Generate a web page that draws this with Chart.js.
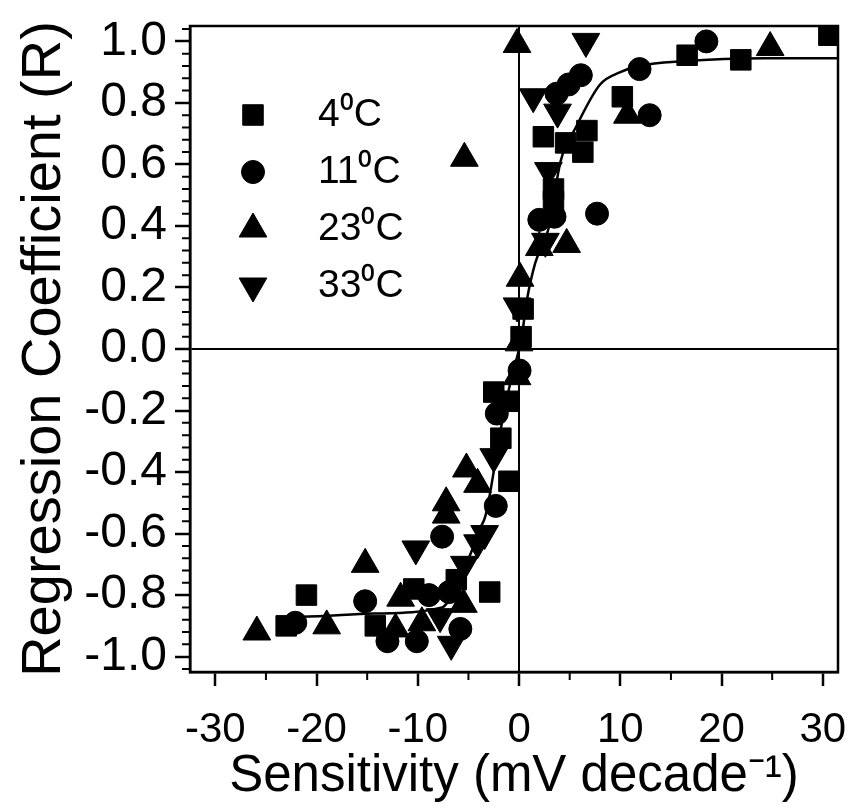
<!DOCTYPE html>
<html>
<head>
<meta charset="utf-8">
<script src="https://cdn.jsdelivr.net/npm/chart.js@4.4.1/dist/chart.umd.min.js"></script>
<style>
html,body{margin:0;padding:0;background:#ffffff;}
#wrap{width:855px;height:808px;position:relative;}
</style>
</head>
<body>
<div id="wrap"><canvas id="c" width="855" height="808"></canvas></div>
<script>
// ---------------- data ----------------
const seriesLabels = ['4\u2070C', '11\u2070C', '23\u2070C', '33\u2070C'];

// 4 °C (squares)
const s4x = [30.6, 21.9, 16.6, 10.2, 2.4, 4.6, 6.7, 6.3, 3.4, 3.4, 0.4, 0.2, -2.5, -1.0, -1.8, -1.0, -21.0, -10.4, -2.9, -6.2, -23.0, -14.2];
const s4y = [1.02, 0.94, 0.955, 0.82, 0.69, 0.67, 0.71, 0.64, 0.52, 0.48, 0.13, 0.04, -0.14, -0.17, -0.29, -0.43, -0.80, -0.78, -0.79, -0.75, -0.90, -0.90];

// 11 °C (circles)
const s11x = [18.5, 11.9, 12.9, 6.1, 4.9, 3.7, 7.7, 2.0, 3.5, 0.05, -2.2, -2.3, -7.6, -15.2, -8.9, -6.9, -22.1, -13.0, -10.1, -5.8];
const s11y = [1.00, 0.91, 0.76, 0.89, 0.86, 0.83, 0.44, 0.42, 0.43, -0.07, -0.21, -0.51, -0.61, -0.82, -0.80, -0.79, -0.89, -0.95, -0.95, -0.91];

// 23 °C (up triangles)
const s23x = [-0.2, 24.8, 10.7, -5.4, 4.7, 2.0, 0.1, 0.0, -0.2, -5.2, -4.1, -7.2, -7.2, -15.2, -11.7, -5.5, -25.9, -19.0, -12.2, -9.6];
const s23y = [0.99, 0.98, 0.76, 0.62, 0.34, 0.33, 0.23, 0.02, -0.09, -0.39, -0.44, -0.50, -0.54, -0.70, -0.81, -0.83, -0.92, -0.90, -0.91, -0.89];

// 33 °C (down triangles)
const s33x = [6.6, 1.4, 3.8, 2.9, 2.6, -0.2, -2.5, -3.4, -4.1, -10.2, -5.4, -6.7, -7.8];
const s33y = [1.00, 0.82, 0.77, 0.58, 0.35, 0.14, -0.35, -0.60, -0.63, -0.65, -0.70, -0.96, -0.87];

// fitted curve
const fitX = [-23, -21.5, -14.4, -7.6, -6.2, -4.6, -3.95, -3.3, -1.75, -1.0, 0, 0.26, 0.78, 1.6, 2.9, 4.1, 5.6, 8.0, 10.0, 11.9, 16.1, 24.3, 31.5];
const fitY = [-0.87, -0.87, -0.86, -0.84, -0.77, -0.65, -0.59, -0.54, -0.25, -0.13, 0.0, 0.04, 0.16, 0.28, 0.39, 0.61, 0.72, 0.86, 0.90, 0.92, 0.935, 0.945, 0.945];

// axis ticks
const xTickValues = [-30, -20, -10, 0, 10, 20, 30];
const xMinorTicks = [-25, -15, -5, 5, 15, 25];
const yTickValues = [-1.0, -0.8, -0.6, -0.4, -0.2, 0.0, 0.2, 0.4, 0.6, 0.8, 1.0];
const yMinorTicks = [];
for (let k = -26; k <= 26; k++) { if (k % 5 !== 0) yMinorTicks.push(k * 0.04); }

const xTitle = 'Sensitivity (mV decade\u207B\u00B9)';
const yTitle = 'Regression Coefficient (R)';

// ---------------- helpers ----------------
const pts = (xs, ys) => xs.map((v, i) => ({x: v, y: ys[i]}));
const isZero = v => Math.abs(v) < 1e-9;

const frame = {
  id: 'frame',
  afterDraw(chart) {
    const {ctx, chartArea: a} = chart;
    ctx.save();
    ctx.strokeStyle = '#000';
    ctx.lineWidth = 2.5;
    ctx.strokeRect(a.left, a.top, a.right - a.left, a.bottom - a.top);
    ctx.restore();
  }
};

const minorTicks = {
  id: 'minorTicks',
  afterDraw(chart) {
    const {ctx, chartArea: a, scales: {x, y}} = chart;
    ctx.save();
    ctx.strokeStyle = '#000';
    ctx.lineWidth = 2;
    ctx.beginPath();
    yMinorTicks.forEach(v => { const p = y.getPixelForValue(v); ctx.moveTo(a.left - 8, p); ctx.lineTo(a.left, p); });
    xMinorTicks.forEach(v => { const p = x.getPixelForValue(v); ctx.moveTo(p, a.bottom); ctx.lineTo(p, a.bottom + 8); });
    ctx.stroke();
    ctx.restore();
  }
};

const insideLegend = {
  id: 'insideLegend',
  afterDraw(chart) {
    const {ctx, chartArea: a} = chart;
    const o = chart.options.plugins.insideLegend;
    ctx.save();
    ctx.fillStyle = '#000';
    ctx.strokeStyle = '#000';
    ctx.font = o.font;
    ctx.textAlign = 'left';
    ctx.textBaseline = 'middle';
    let row = 0;
    chart.data.datasets.forEach(ds => {
      if (!ds.inLegend) return;
      const cx = a.left + o.dx;
      const cy = a.top + o.dy + row * o.step;
      Chart.helpers.drawPoint(ctx, {pointStyle: ds.pointStyle, radius: ds.pointRadius, rotation: ds.pointRotation || 0, borderWidth: 1}, cx, cy);
      ctx.fillStyle = '#000';
      ctx.fillText(ds.label, a.left + o.textDx, cy);
      row++;
    });
    ctx.restore();
  }
};

const markerBase = {backgroundColor: '#000', borderColor: '#000', pointBorderWidth: 1, showLine: false, inLegend: true};

const data = {
  datasets: [
    Object.assign({}, markerBase, {label: seriesLabels[0], data: pts(s4x, s4y), pointStyle: 'rect', pointRadius: 14.5}),
    Object.assign({}, markerBase, {label: seriesLabels[1], data: pts(s11x, s11y), pointStyle: 'circle', pointRadius: 11.5}),
    Object.assign({}, markerBase, {label: seriesLabels[2], data: pts(s23x, s23y), pointStyle: 'triangle', pointRadius: 16}),
    Object.assign({}, markerBase, {label: seriesLabels[3], data: pts(s33x, s33y), pointStyle: 'triangle', pointRotation: 180, pointRadius: 16}),
    {label: 'fit', data: pts(fitX, fitY), showLine: true, pointRadius: 0, borderColor: '#000', borderWidth: 2.5,
     cubicInterpolationMode: 'monotone', fill: false, inLegend: false}
  ]
};

Chart.defaults.font.family = '"Liberation Sans", Arial, Helvetica, sans-serif';
Chart.defaults.color = '#000';

new Chart(document.getElementById('c'), {
  type: 'scatter',
  data: data,
  plugins: [frame, minorTicks, insideLegend],
  options: {
    responsive: false,
    animation: false,
    events: [],
    layout: {padding: {top: 26, right: 10, bottom: 0, left: 0}},
    plugins: {
      legend: {display: false},
      tooltip: {enabled: false},
      insideLegend: {dx: 63, dy: 89, step: 57, textDx: 128, font: '39px "Liberation Sans", Arial, sans-serif'}
    },
    scales: {
      x: {
        type: 'linear',
        min: -32.5,
        max: 31.5,
        afterBuildTicks: s => { s.ticks = xTickValues.map(v => ({value: v})); },
        afterFit: s => { s.height = 136; s.paddingLeft = 0; s.paddingRight = 0; },
        ticks: {
          callback: v => String(v),
          font: {family: '"Liberation Sans Narrow", "Liberation Sans", Arial, sans-serif', size: 42},
          padding: 19,
          maxRotation: 0,
          autoSkip: false
        },
        grid: {
          drawOnChartArea: true,
          color: c => (c.tick && isZero(c.tick.value)) ? '#000' : 'rgba(0,0,0,0)',
          lineWidth: 2,
          tickColor: '#000',
          tickWidth: 2.5,
          tickLength: 14
        },
        border: {display: true, color: '#000', width: 2.5},
        title: {display: true, text: xTitle, font: {size: 51, lineHeight: 1.2}, padding: {top: 0, bottom: 0}}
      },
      y: {
        type: 'linear',
        min: -1.05,
        max: 1.05,
        afterBuildTicks: s => { s.ticks = yTickValues.map(v => ({value: v})); },
        afterFit: s => { s.width = 190; s.paddingTop = 0; s.paddingBottom = 0; },
        ticks: {
          callback: v => isZero(v) ? '0.0' : Number(v).toFixed(1),
          font: {size: 48},
          padding: 8,
          autoSkip: false
        },
        grid: {
          drawOnChartArea: true,
          color: c => (c.tick && isZero(c.tick.value)) ? '#000' : 'rgba(0,0,0,0)',
          lineWidth: 2,
          tickColor: '#000',
          tickWidth: 2.5,
          tickLength: 15
        },
        border: {display: true, color: '#000', width: 2.5},
        title: {display: true, text: yTitle, font: {size: 56, lineHeight: 1.2}, padding: {top: 11, bottom: 0}}
      }
    }
  }
});
</script>
</body>
</html>
